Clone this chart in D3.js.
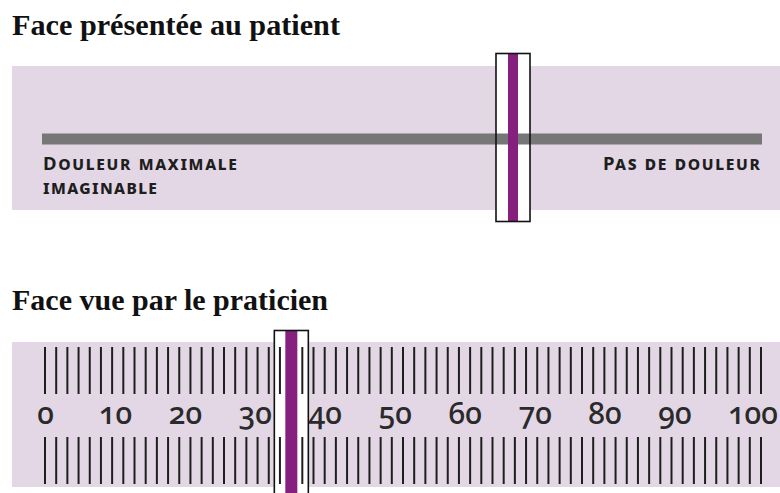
<!DOCTYPE html>
<html><head><meta charset="utf-8">
<script src="https://cdn.jsdelivr.net/npm/d3@7"></script>
<style>
html,body{margin:0;padding:0;background:#fff;}
svg{display:block;}
</style></head>
<body>
<script>
// ---- data ----
const titles = ["Face présentée au patient", "Face vue par le praticien"];
const patientLabels = ["Douleur maximale", "imaginable", "Pas de douleur"];
const scaleDomain = [0, 100];
const tickLabels = [0, 10, 20, 30, 40, 50, 60, 70, 80, 90, 100];
const graduationCount = 65;
const painValue = 35;

const W = 780, H = 493;
const pink = "#e3d7e5", purple = "#85207f", gray = "#777777", ink = "#1e1e1e";

const svg = d3.select("body").append("svg").attr("width", W).attr("height", H);

function fitText(sel, target) {
  const n = sel.node();
  const fs = parseFloat(sel.attr("font-size"));
  const w = n.getComputedTextLength();
  sel.attr("font-size", (fs * target / w).toFixed(2));
}
function fitSpacing(sel, target) {
  const n = sel.node();
  const w = n.getComputedTextLength();
  const len = sel.text().length;
  const ls = (target - w) / Math.max(1, len - 1);
  sel.style("letter-spacing", ls + "px");
}

// ---- Panel 1: patient side ----
// "Pas de douleur" (0) on the right, "Douleur maximale" (100) on the left
const xTop = d3.scaleLinear().domain([scaleDomain[1], scaleDomain[0]]).range([42, 762]);

const t1 = svg.append("text").attr("x", 12).attr("y", 35)
  .attr("font-family", "'Liberation Serif','Times New Roman',serif")
  .attr("font-weight", "bold").attr("font-size", 29).attr("fill", "#111")
  .text(titles[0]);
fitText(t1, 328);

svg.append("rect").attr("x", 12).attr("y", 66).attr("width", W - 12).attr("height", 144).attr("fill", pink);

const cTop = xTop(painValue) + 3;
svg.append("rect").attr("x", cTop - 17).attr("y", 53.5).attr("width", 34).attr("height", 168)
  .attr("fill", "#fff");
svg.append("rect").attr("x", xTop(100)).attr("y", 133.5)
  .attr("width", xTop(0) - xTop(100)).attr("height", 11).attr("fill", gray);
svg.append("rect").attr("x", cTop - 5).attr("y", 54).attr("width", 10).attr("height", 167).attr("fill", purple);
svg.append("rect").attr("x", cTop - 17).attr("y", 53.5).attr("width", 34).attr("height", 168)
  .attr("fill", "none").attr("stroke", "#111").attr("stroke-width", 1.6);

const labFont = "'Noto Sans','Open Sans',sans-serif";
const l1 = svg.append("text").attr("x", xTop(100) + 1).attr("y", 170)
  .attr("font-family", labFont).attr("font-weight", 700).attr("font-size", 18.5)
  .style("font-variant", "small-caps").attr("fill", ink).text(patientLabels[0]);
fitSpacing(l1, 194);
const l2 = svg.append("text").attr("x", xTop(100) + 1).attr("y", 194)
  .attr("font-family", labFont).attr("font-weight", 700).attr("font-size", 18.5)
  .style("font-variant", "small-caps").attr("fill", ink).text(patientLabels[1]);
fitSpacing(l2, 114);
const l3 = svg.append("text").attr("x", 603).attr("y", 170)
  .attr("font-family", labFont).attr("font-weight", 700).attr("font-size", 18.5)
  .style("font-variant", "small-caps").attr("fill", ink).text(patientLabels[2]);
fitSpacing(l3, 157);

// ---- Panel 2: practitioner side ----
const t2 = svg.append("text").attr("x", 12).attr("y", 310)
  .attr("font-family", "'Liberation Serif','Times New Roman',serif")
  .attr("font-weight", "bold").attr("font-size", 29).attr("fill", "#111")
  .text(titles[1]);
fitText(t2, 316);

svg.append("rect").attr("x", 12).attr("y", 342).attr("width", W - 12).attr("height", 145).attr("fill", pink);

const xBot = d3.scaleLinear().domain(scaleDomain).range([45.5, 745]);
const xGrad = d3.scaleLinear().domain([0, graduationCount - 1]).range([45, 761]);

const cBot = xBot(painValue) + 1;
svg.append("rect").attr("x", cBot - 17).attr("y", 330.5).attr("width", 34).attr("height", 170)
  .attr("fill", "#fff");

const grads = d3.range(graduationCount);
svg.append("g").selectAll("line.top").data(grads).join("line")
  .attr("x1", d => xGrad(d)).attr("x2", d => xGrad(d))
  .attr("y1", 347).attr("y2", 394).attr("stroke", ink).attr("stroke-width", 2);
svg.append("g").selectAll("line.bot").data(grads).join("line")
  .attr("x1", d => xGrad(d)).attr("x2", d => xGrad(d))
  .attr("y1", 437).attr("y2", 484).attr("stroke", ink).attr("stroke-width", 2);

svg.append("g").selectAll("text").data(tickLabels).join("text")
  .attr("x", d => xBot(d) + (d === 100 ? 8 : 0)).attr("y", 424)
  .attr("text-anchor", "middle")
  .attr("font-family", labFont).attr("font-size", 30).attr("font-weight", 500)
  .style("font-variant-numeric", "oldstyle-nums")
  .style("font-feature-settings", "'onum' 1")
  .attr("fill", "#2a2a2a").text(d => d);

svg.append("rect").attr("x", cBot - 6).attr("y", 331).attr("width", 12).attr("height", 170).attr("fill", purple);
svg.append("rect").attr("x", cBot - 17).attr("y", 330.5).attr("width", 34).attr("height", 170)
  .attr("fill", "none").attr("stroke", "#111").attr("stroke-width", 1.6);
</script>
</body></html>
